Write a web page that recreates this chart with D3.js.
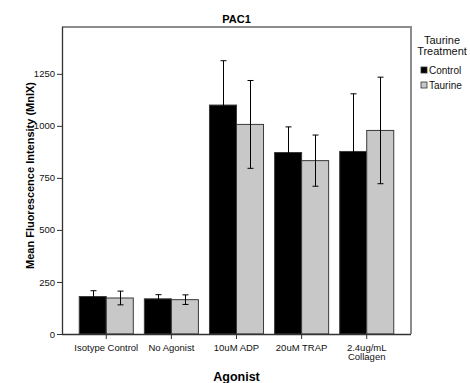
<!DOCTYPE html>
<html>
<head>
<meta charset="utf-8">
<script src="https://cdn.jsdelivr.net/npm/d3@7"></script>
<style>
  body { margin: 0; background: #fff; }
  text { font-family: "Liberation Sans", Arial, sans-serif; }
</style>
</head>
<body>
<div id="chart"></div>
<script>
// Data //
var agonists = ["Isotype Control", "No Agonist", "10uM ADP", "20uM TRAP", "2.4ug/mL Collagen"];
var treatments = ["Control", "Taurine"];
var controlMeans = [180, 169, 1100, 872, 877];
var controlErr = [28, 20, 213, 123, 277];
var taurineMeans = [173, 165, 1007, 833, 978];
var taurineErr = [33, 23, 211, 123, 256];
var yTicks = [0, 250, 500, 750, 1000, 1250];

var svgWidth = 470;
var svgHeight = 383;
var plot = { left: 62, right: 411, top: 27, bottom: 334 };

var svg = d3.select("#chart")
  .append("svg")
  .attr("width", svgWidth)
  .attr("height", svgHeight);

var rows = [];
agonists.forEach(function(a, i) {
  rows.push({ agonist: a, treatment: "Control", mean: controlMeans[i], err: controlErr[i] });
  rows.push({ agonist: a, treatment: "Taurine", mean: taurineMeans[i], err: taurineErr[i] });
});

// Scales //
var xScale = d3.scaleBand()
  .domain(agonists)
  .range([plot.left, plot.right])
  .paddingInner(0.17)
  .paddingOuter(0.265);

var subScale = d3.scaleBand()
  .domain(treatments)
  .range([0, xScale.bandwidth()]);

var yScale = d3.scaleLinear()
  .domain([0, 1475])
  .range([plot.bottom, plot.top]);

var fill = d3.scaleOrdinal()
  .domain(treatments)
  .range(["#000000", "#c8c8c8"]);

// Frame //
svg.append("path")
  .attr("d", `M${plot.left},${plot.top}H${plot.right}V${plot.bottom}`)
  .attr("fill", "none")
  .attr("stroke", "#8c8c8c")
  .attr("stroke-width", 2);

// Bars //
svg.selectAll("rect.bar")
  .data(rows)
  .enter()
  .append("rect")
  .attr("class", "bar")
  .attr("x", d => xScale(d.agonist) + subScale(d.treatment))
  .attr("y", d => yScale(d.mean))
  .attr("width", subScale.bandwidth())
  .attr("height", d => yScale(0) - yScale(d.mean))
  .attr("fill", d => fill(d.treatment))
  .attr("stroke", "#3a3a3a")
  .attr("stroke-width", 1);

// Error bars //
var errGroup = svg.selectAll("g.err")
  .data(rows)
  .enter()
  .append("g")
  .attr("class", "err")
  .attr("transform", d => `translate(${Math.round(xScale(d.agonist) + subScale(d.treatment) + subScale.bandwidth() / 2) + 0.5},0)`)
  .attr("stroke", "#000")
  .attr("stroke-width", 1);

errGroup.append("line")
  .attr("y1", d => yScale(d.mean - d.err))
  .attr("y2", d => yScale(d.mean + d.err));

errGroup.append("line")
  .attr("x1", -3).attr("x2", 3)
  .attr("y1", d => yScale(d.mean + d.err))
  .attr("y2", d => yScale(d.mean + d.err));

errGroup.append("line")
  .attr("x1", -3).attr("x2", 3)
  .attr("y1", d => yScale(d.mean - d.err))
  .attr("y2", d => yScale(d.mean - d.err));

// Axes //
var leftAxis = d3.axisLeft(yScale).tickValues(yTicks).tickFormat(d3.format("d")).tickSize(5).tickPadding(2);
var bottomAxis = d3.axisBottom(xScale).tickSize(5).tickPadding(5);

var yAxisG = svg.append("g")
  .attr("transform", `translate(${plot.left},0)`)
  .call(leftAxis);

var xAxisG = svg.append("g")
  .attr("transform", `translate(0,${plot.bottom})`)
  .call(bottomAxis);

[yAxisG, xAxisG].forEach(function(g) {
  g.select(".domain").attr("stroke", "#333").attr("stroke-width", 1.3);
  g.selectAll(".tick line").attr("stroke", "#333");
  g.selectAll(".tick text")
    .attr("fill", "#111")
    .style("font-size", "9.5px")
    .style("font-family", "'Liberation Sans', Arial, sans-serif");
});
xAxisG.select(".domain").attr("d", `M${plot.left},0.5H${plot.right}`);
yAxisG.select(".domain").attr("d", `M0.5,${plot.top}V${plot.bottom}`);

// wrap the collagen label onto two lines
xAxisG.selectAll(".tick text")
  .each(function(d) {
    if (d == "2.4ug/mL Collagen") {
      var t = d3.select(this).text(null);
      t.append("tspan").attr("x", 0).attr("dy", "0.71em").text("2.4ug/mL");
      t.append("tspan").attr("x", 0).attr("dy", "1.0em").text("Collagen");
      t.attr("dy", null);
    }
  });

// Titles //
svg.append("text")
  .attr("x", (plot.left + plot.right) / 2)
  .attr("y", 23)
  .attr("text-anchor", "middle")
  .attr("font-weight", "bold")
  .attr("font-size", 11)
  .text("PAC1");

svg.append("text")
  .attr("transform", `translate(30, ${(plot.top + plot.bottom) / 2 - 5}) rotate(-90)`)
  .attr("text-anchor", "middle")
  .attr("dy", "0.35em")
  .attr("font-weight", "bold")
  .attr("font-size", 11)
  .text("Mean Fluorescence Intensity (MnIX)");

svg.append("text")
  .attr("x", (plot.left + plot.right) / 2)
  .attr("y", 381)
  .attr("text-anchor", "middle")
  .attr("font-weight", "bold")
  .attr("font-size", 12.5)
  .text("Agonist");

// Legend //
var legendTitle = svg.append("text")
  .attr("text-anchor", "middle")
  .attr("font-size", 11)
  .attr("fill", "#111");
legendTitle.append("tspan").attr("x", 442).attr("y", 44).text("Taurine");
legendTitle.append("tspan").attr("x", 442).attr("y", 55).text("Treatment");

var legend = svg.selectAll("g.legend")
  .data(treatments)
  .enter()
  .append("g")
  .attr("class", "legend")
  .attr("transform", (d, i) => `translate(421, ${67 + i * 15})`);

legend.append("rect")
  .attr("width", 6)
  .attr("height", 6)
  .attr("fill", d => fill(d))
  .attr("stroke", "#333")
  .attr("stroke-width", 0.8);

legend.append("text")
  .attr("x", 8)
  .attr("y", 3)
  .attr("dy", "0.35em")
  .attr("font-size", 10)
  .attr("fill", "#111")
  .text(d => d);
</script>
</body>
</html>
